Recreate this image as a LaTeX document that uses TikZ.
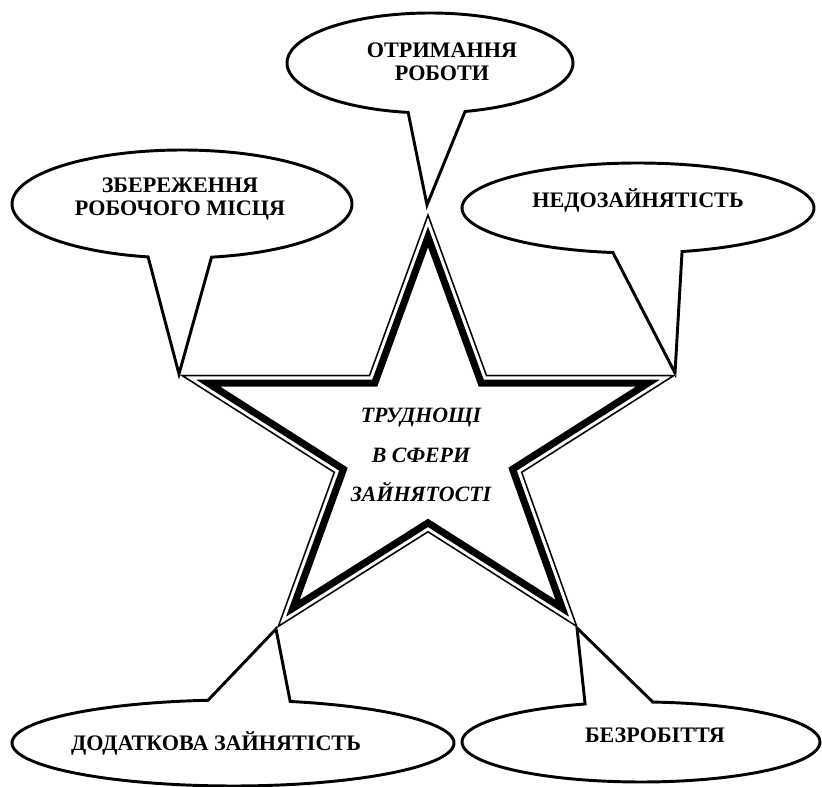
\documentclass[tikz,border=0pt]{standalone}
\usepackage{fontspec}
\setmainfont{Liberation Serif}

% speech bubble: centre (#1,#2), radii #3/#4, tail base between
% parametric angles #5 and #6 (long way round), tail tip at coordinate #7
\newcommand\speechbubble[7]{%
  \draw[bubble] plot[domain=#5:#6, samples=140, variable=\ang]
    ({#1+#3*cos(\ang)},{#2+#4*sin(\ang)}) -- (#7) -- cycle;}

\begin{document}
\begin{tikzpicture}[x=0.75pt,y=-0.75pt,
  bubble/.style={draw=black, fill=white, line width=2.2pt, line join=miter},
  bubbletext/.style={font=\bfseries\fontsize{16.6}{17.5}\selectfont,
    align=center, inner sep=0pt},
  startext/.style={font=\bfseries\itshape\fontsize{16.4}{29.5}\selectfont,
    align=center, inner sep=0pt}]
\useasboundingbox (0,0) rectangle (822,787);

% star points and inner corners
\coordinate (sT)  at (428,213);
\coordinate (sUR) at (487,375);
\coordinate (sR)  at (676,375);
\coordinate (sLR) at (522.5,472.6);
\coordinate (sBR) at (578,628);
\coordinate (sB)  at (428,532.6);
\coordinate (sBL) at (277,628);
\coordinate (sLL) at (333.5,472.6);
\coordinate (sL)  at (180,375);
\coordinate (sUL) at (369,375);

% bubble tail tips
\coordinate (tipKeep)    at (179,374);
\coordinate (tipGet)     at (427,205);
\coordinate (tipUnder)   at (675,373);
\coordinate (tipExtra)   at (276,629);
\coordinate (tipJobless) at (577,628);

% bubbles
\speechbubble{182}{204}{170}{54}{101.5}{440}{tipKeep}
\speechbubble{430}{63}{143}{50}{98.8}{435.8}{tipGet}
\speechbubble{638}{208}{176}{45}{98.2}{435.5}{tipUnder}
\speechbubble{233}{743}{221}{43}{285}{623.5}{tipExtra}
\speechbubble{641}{742}{179}{40}{273.8}{611.8}{tipJobless}

% star with thin-thick inner border
\def\starpath{(sT) -- (sUR) -- (sR) -- (sLR) -- (sBR) -- (sB) -- (sBL) -- (sLL) -- (sL) -- (sUL) -- cycle}
\fill[white] \starpath;
\begin{scope}[line join=miter]
  \clip \starpath;
  \draw[black, line width=17.6pt] \starpath;
  \draw[white, line width=6.8pt] \starpath;
  \draw[black, line width=2.2pt] \starpath;
\end{scope}

% texts
\node[bubbletext] (keep)    at (180,199) {ЗБЕРЕЖЕННЯ\\РОБОЧОГО МІСЦЯ};
\node[bubbletext] (get)     at (442,62)  {ОТРИМАННЯ\\РОБОТИ};
\node[bubbletext] (under)   at (638,200) {НЕДОЗАЙНЯТІСТЬ};
\node[bubbletext] (extra)   at (216,743) {ДОДАТКОВА ЗАЙНЯТІСТЬ};
\node[bubbletext] (jobless) at (655,735) {БЕЗРОБІТТЯ};
\node[startext]   (core)    at (421,455) {ТРУДНОЩІ\\В СФЕРИ\\ЗАЙНЯТОСТІ};
\end{tikzpicture}
\end{document}
